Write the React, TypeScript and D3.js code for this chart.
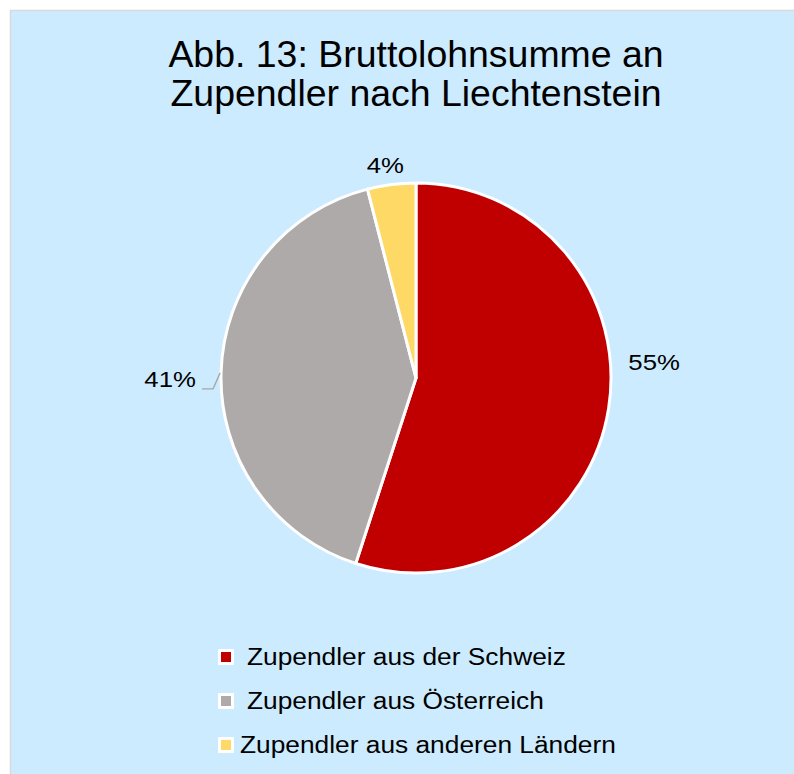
import React, { useRef, useEffect } from 'react';
import * as d3 from 'd3';

const categories = ['Zupendler aus der Schweiz', 'Zupendler aus Österreich', 'Zupendler aus anderen Ländern'];
const shares = [55, 41, 4];
const colors = ['#C00000', '#AEAAAA', '#FFD966'];
const titleLines = ['Abb. 13: Bruttolohnsumme an', 'Zupendler nach Liechtenstein'];

const App = () => {
  const ref = useRef<SVGSVGElement>(null);
  useEffect(() => {
    const svg = d3.select(ref.current);
    svg.selectAll('*').remove();
    const width = 794;
    const height = 774;
    const font = 'Liberation Sans, Arial, sans-serif';
    const sx = 1.12; // text in the original is drawn a little wide

    svg.append('rect').attr('x', 10.5).attr('y', 10.5).attr('width', width).attr('height', height)
      .attr('fill', '#CCEBFE').attr('stroke', '#D9D9D9').attr('stroke-width', 1.5);

    svg.append('g').selectAll('text').data(titleLines).join('text')
      .attr('transform', (d, i) => `translate(416,${67 + i * 39}) scale(1.04,1)`)
      .attr('text-anchor', 'middle').style('font-family', font).style('font-size', '36px').style('fill', '#000')
      .text(d => d);

    const cx = 416, cy = 378, radius = 195;
    const pie = d3.pie<number>().value(d => d).sort(null);
    const arc = d3.arc<d3.PieArcDatum<number>>().innerRadius(0).outerRadius(radius);
    const pieData = pie(shares);
    const g = svg.append('g').attr('transform', `translate(${cx},${cy})`);
    g.selectAll('path').data(pieData).join('path').attr('d', arc)
      .attr('fill', (d, i) => colors[i]).attr('stroke', '#fff').attr('stroke-width', 3).attr('stroke-linejoin', 'round');

    // labels outside each slice (best-fit style offsets)
    const labelArc = d3.arc<d3.PieArcDatum<number>>().innerRadius(radius + 42).outerRadius(radius + 42);
    const offsets = [[4, -53], [-9, 8], [-1, 22]];
    g.selectAll('text.lbl').data(pieData).join('text').attr('class', 'lbl')
      .attr('transform', (d, i) => {
        const [x, y] = labelArc.centroid(d);
        return `translate(${x + offsets[i][0]},${y + offsets[i][1]}) scale(${sx},1)`;
      })
      .attr('text-anchor', 'middle').attr('dominant-baseline', 'central')
      .style('font-family', font).style('font-size', '23px').style('fill', '#000')
      .text(d => `${d.data}%`);

    // leader line for 41%
    const mid = (pieData[1].startAngle + pieData[1].endAngle) / 2;
    const ex = Math.sin(mid) * radius;
    const ey = -Math.cos(mid) * radius;
    g.append('path').attr('d', `M${ex - 1},${ey + 1} L${ex - 8},${ey + 17} L${ex - 19},${ey + 17}`)
      .attr('fill', 'none').attr('stroke', '#A6A6A6').attr('stroke-width', 1.3);

    // legend
    const legendY = [657, 701, 745];
    const textX = [247, 247, 240];
    const lg = svg.append('g');
    categories.forEach((c, i) => {
      lg.append('rect').attr('x', 218).attr('y', legendY[i] - 8).attr('width', 16).attr('height', 16).attr('fill', '#fff');
      lg.append('rect').attr('x', 221).attr('y', legendY[i] - 5).attr('width', 10).attr('height', 10).attr('fill', colors[i]);
      lg.append('text').attr('transform', `translate(${textX[i]},${legendY[i]}) scale(${sx},1)`)
        .attr('dominant-baseline', 'central')
        .style('font-family', font).style('font-size', '23.5px').style('fill', '#000').text(c);
    });
  }, []);

  return <svg ref={ref} width={794} height={774} style={{ position: 'absolute', left: 0, top: 0, display: 'block' }} />;
};

export default App;
